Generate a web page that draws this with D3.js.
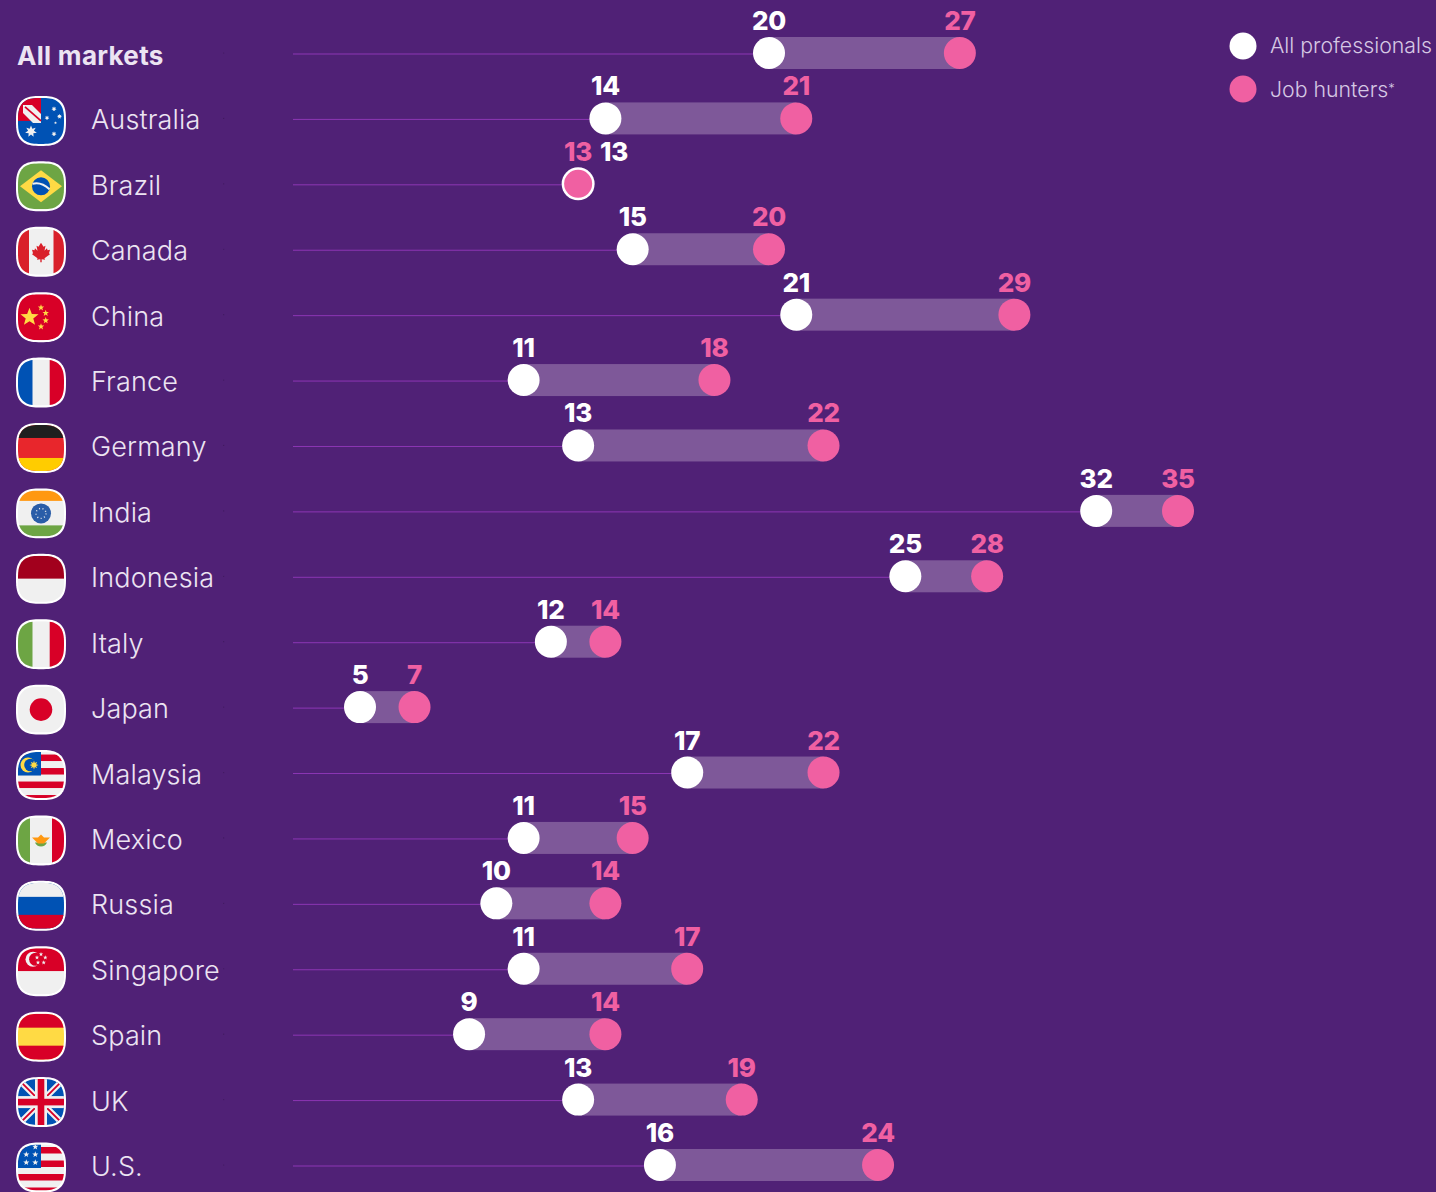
<!DOCTYPE html>
<html><head><meta charset="utf-8">
<script src="https://cdn.jsdelivr.net/npm/d3@7"></script>
<style>
html,body{margin:0;padding:0;background:#502176;overflow:hidden}
svg{display:block}
text{font-family:Inter,"Noto Sans",sans-serif}
</style></head><body><svg id="c" width="1436" height="1192"></svg>
<script>
const markets=["All markets","Australia","Brazil","Canada","China","France","Germany","India","Indonesia","Italy","Japan","Malaysia","Mexico","Russia","Singapore","Spain","UK","U.S."];
const allProfessionals=[20,14,13,15,21,11,13,32,25,12,5,17,11,10,11,9,13,16];
const jobHunters=[27,21,13,20,29,18,22,35,28,14,7,22,15,14,17,14,19,24];
const legendLabels=["All professionals","Job hunters"];
const WHITE="#ffffff",PINK="#f060a2",BAR="#7e5899",LINE="#8c36b4",LABEL="#ece4f2",LEGEND="#d6c8e4";
const RED="#d80027",BLUE="#0052b4",GREY="#f0f0f0",GREEN="#6da544",YEL="#ffda44",ORG="#ff9811";

const svg=d3.select("#c");
const x=d3.scaleLinear().domain([5,35]).range([360,1178]);
const y=d3.scalePoint().domain(markets).range([53,1165]);
const lineStart=293,R=16;

// superellipse flag outline
function blob(a,n=2.9){
  const pts=d3.range(0,360,4).map(d=>{const t=d*Math.PI/180,c=Math.cos(t),s=Math.sin(t);
    return [a*Math.sign(c)*Math.pow(Math.abs(c),2/n),a*Math.sign(s)*Math.pow(Math.abs(s),2/n)];});
  return d3.line().curve(d3.curveLinearClosed)(pts);
}
function starPath(r,pts=5,inner=0.42){
  const p=[];for(let i=0;i<pts*2;i++){const a=-Math.PI/2+i*Math.PI/pts,q=i%2?r*inner:r;p.push([q*Math.cos(a),q*Math.sin(a)]);}
  return d3.line().curve(d3.curveLinearClosed)(p);
}
const rect=(g,x0,y0,w,h,f)=>g.append("rect").attr("x",x0).attr("y",y0).attr("width",w).attr("height",h).attr("fill",f);
const star=(g,cx,cy,r,f,pts,inner)=>g.append("path").attr("transform",`translate(${cx},${cy})`).attr("d",starPath(r,pts,inner)).attr("fill",f);
const circ=(g,cx,cy,r,f)=>g.append("circle").attr("cx",cx).attr("cy",cy).attr("r",r).attr("fill",f);
const seg=(g,x1,y1,x2,y2,c,w)=>g.append("line").attr("x1",x1).attr("y1",y1).attr("x2",x2).attr("y2",y2).attr("stroke",c).attr("stroke-width",w);
const vbands=(g,a,b,c,l=-8.5,r=8.5)=>{rect(g,-25,-25,50,50,b);rect(g,-25,-25,25+l,50,a);rect(g,r,-25,25-r,50,c);};
const hbands=(g,a,b,c,t=-9,u=9)=>{rect(g,-25,-25,50,50,b);rect(g,-25,-25,50,25+t,a);rect(g,-25,u,50,25-u,c);};
function stripes(g){
  rect(g,-25,-25,50,50,GREY);
  [[-20.5,6.5],[-7,6.5],[6.5,6.5],[20,5]].forEach(s=>rect(g,-25,s[0],50,s[1],RED));
  rect(g,-25,-25,25,25.5,BLUE);
}
const flags={
 "Australia":g=>{rect(g,-25,-25,50,50,BLUE);rect(g,-25,-25,25,25,RED);
   g.append("path").attr("d","M-18,-15 L-18,-18 L-9,-18 L0,-9 L0,0 L-8,0 L-18,-10Z").attr("fill",GREY).attr("transform","translate(0,2)");
   seg(g,-16,-14,0,0,RED,1.8);
   star(g,-10,10.5,6,GREY,7,.5);star(g,13,-12,2.6,GREY,7,.5);star(g,18.5,-4.5,2.6,GREY,7,.5);star(g,6,-3,2.4,GREY,7,.5);star(g,14.5,2,1.6,GREY,5);star(g,13,13,2.6,GREY,7,.5);},
 "Brazil":g=>{rect(g,-25,-25,50,50,GREEN);
   g.append("path").attr("d","M0,-16 L21,0 L0,16 L-21,0Z").attr("fill",YEL);circ(g,0,0,9,BLUE);
   g.append("path").attr("d","M-8.5,-2.5 Q0,-5 8.5,3").attr("fill","none").attr("stroke",GREY).attr("stroke-width",2);},
 "Canada":g=>{vbands(g,"#d9202a",GREY,"#d9202a",-12,12.5);
   g.append("path").attr("d","M0,-9 L2.5,-5 L4.5,-6 L3.5,-1 L6,-3.5 L6.5,-1.5 L9,-2 L8,1.5 L9,2.5 L3.5,6.5 L4,8 L.7,7.5 L.7,10.5 L-.7,10.5 L-.7,7.5 L-4,8 L-3.5,6.5 L-9,2.5 L-8,1.5 L-9,-2 L-6.5,-1.5 L-6,-3.5 L-3.5,-1 L-4.5,-6 L-2.5,-5Z").attr("fill","#d9202a");},
 "China":g=>{rect(g,-25,-25,50,50,RED);star(g,-11.5,0,9.5,YEL);[[0,-9.5],[4.7,-4],[4.7,3.3],[0,9.5]].forEach(p=>star(g,p[0],p[1],3.4,YEL));},
 "France":g=>vbands(g,BLUE,GREY,RED,-8.5,8.7),
 "Germany":g=>hbands(g,"#1f1f1f","#e8262c","#ffcc00",-10,10),
 "India":g=>{hbands(g,ORG,GREY,GREEN,-12.5,12);circ(g,0,0,10,"#2a5da8");
   g.append("circle").attr("r",5).attr("fill","none").attr("stroke",GREY).attr("stroke-width",1.4).attr("stroke-dasharray","1 2.5");},
 "Indonesia":g=>hbands(g,"#a2001d",GREY,GREY,0,0),
 "Italy":g=>vbands(g,GREEN,GREY,RED,-8.5,8.7),
 "Japan":g=>{rect(g,-25,-25,50,50,GREY);circ(g,0,0,11.3,RED);},
 "Malaysia":g=>{stripes(g);circ(g,-13,-10,7.5,YEL);circ(g,-10.5,-10,6.3,BLUE);star(g,-7,-10,4.5,YEL,8,.5);},
 "Mexico":g=>{vbands(g,GREEN,GREY,RED,-11,11);
   g.append("path").attr("d","M-6,0 A6.5,6.5 0 0 0 6,0Z").attr("transform","translate(0,2)").attr("fill",GREEN);
   g.append("path").attr("d","M-9,-3 L9,-3 L5,1 L3,3 L-3,3 L-5,1Z M0,-6 L3,-3 L-3,-3Z").attr("fill",ORG);},
 "Russia":g=>hbands(g,GREY,BLUE,RED,-9,9),
 "Singapore":g=>{hbands(g,RED,GREY,GREY,0,0);circ(g,-8,-12,7.5,GREY);circ(g,-5.3,-12,6.6,RED);
   [[0,-17],[-4,-13.7],[4.3,-13.7],[-3,-8.7],[2.7,-8.7]].forEach(p=>star(g,p[0],p[1],2.3,GREY));},
 "Spain":g=>hbands(g,RED,YEL,RED,-9,9),
 "UK":g=>{rect(g,-25,-25,50,50,BLUE);
   g.append("path").attr("d","M-25,-25L25,25M25,-25L-25,25").attr("stroke",GREY).attr("stroke-width",6);
   g.append("path").attr("d","M-25,-25L25,25M25,-25L-25,25").attr("stroke",RED).attr("stroke-width",1.8);
   rect(g,-25,-6,50,12,GREY);rect(g,-6,-25,12,50,GREY);rect(g,-25,-3.3,50,6.6,RED);rect(g,-3.3,-25,6.6,50,RED);},
 "U.S.":g=>{stripes(g);[[-5.7,-20.7],[-14.7,-13],[-5.7,-13],[-14.7,-5],[-5.7,-5]].forEach(p=>star(g,p[0],p[1],3.2,GREY));},
};

const defs=svg.append("defs");
defs.append("clipPath").attr("id","flagClip").append("path").attr("d",blob(23));

const rows=svg.selectAll("g.row").data(markets.map((m,i)=>({m,a:allProfessionals[i],j:jobHunters[i]}))).join("g").attr("class","row");

rows.each(function(d){
  const g=d3.select(this),cy=y(d.m),xa=x(d.a),xj=x(d.j);
  g.append("circle").attr("cx",x(0)).attr("cy",cy).attr("r",.6).attr("fill","#3f1a5e");
  g.append("line").attr("x1",lineStart).attr("x2",xa).attr("y1",cy+1).attr("y2",cy+1).attr("stroke",LINE).attr("stroke-width",1);
  if(d.a!==d.j){
    g.append("rect").attr("x",xa).attr("y",cy-R).attr("width",xj-xa).attr("height",R*2).attr("fill",BAR);
    g.append("circle").attr("cx",xa).attr("cy",cy).attr("r",R).attr("fill",WHITE);
    g.append("circle").attr("cx",xj).attr("cy",cy).attr("r",R).attr("fill",PINK);
  }else{
    g.append("circle").attr("cx",xa).attr("cy",cy).attr("r",R+.5).attr("fill",WHITE);
    g.append("circle").attr("cx",xj).attr("cy",cy).attr("r",R-2).attr("fill",PINK);
  }
  const vlab=(v,px,c)=>g.append("text").attr("x",px).attr("y",cy-23).attr("text-anchor","middle")
     .attr("font-size",26).attr("font-weight",800).attr("letter-spacing",-.2).attr("fill",c).text(v);
  vlab(d.a,d.a===d.j?xa+36:xa,WHITE);
  vlab(d.j,xj,PINK);
  if(d.m==="All markets"){
    g.append("text").attr("x",17).attr("y",cy+12).attr("font-size",26).attr("font-weight",700).attr("letter-spacing",.3).attr("fill",LABEL).text(d.m);
  }else{
    g.append("text").attr("x",91).attr("y",cy+11).attr("font-size",27).attr("font-weight",300).attr("letter-spacing",.15).attr("fill",LABEL).text(d.m);
    const f=g.append("g").attr("transform",`translate(41,${cy+2.5})`);
    f.append("path").attr("d",blob(25)).attr("fill",WHITE);
    const inner=f.append("g").attr("clip-path","url(#flagClip)");
    flags[d.m](inner);
  }
});

const legend=svg.selectAll("g.leg").data(legendLabels).join("g").attr("class","leg")
  .attr("transform",(d,i)=>`translate(1243,${46+i*43})`);
legend.append("circle").attr("r",13.5).attr("fill",(d,i)=>i?PINK:WHITE);
const lt=legend.append("text").attr("x",27).attr("y",(d,i)=>i?7.5:7).attr("font-size",21.3).attr("font-weight",300).attr("fill",LEGEND).text(d=>d);
lt.filter((d,i)=>i===1).append("tspan").attr("font-size",13).attr("dy",-4).text("*");
</script></body></html>
